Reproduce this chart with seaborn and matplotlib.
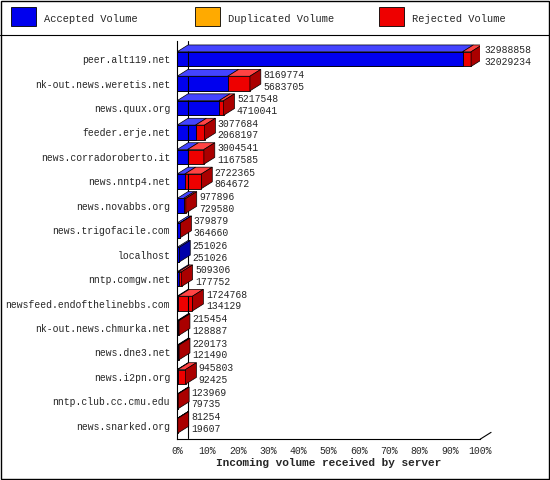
import matplotlib
matplotlib.use("Agg")
import matplotlib.pyplot as plt
import seaborn as sns
import pandas as pd
from matplotlib.patches import Polygon, Rectangle
from matplotlib.lines import Line2D

servers = ["peer.alt119.net","nk-out.news.weretis.net","news.quux.org","feeder.erje.net",
           "news.corradoroberto.it","news.nntp4.net","news.novabbs.org","news.trigofacile.com",
           "localhost","nntp.comgw.net","newsfeed.endofthelinebbs.com","nk-out.news.chmurka.net",
           "news.dne3.net","news.i2pn.org","nntp.club.cc.cmu.edu","news.snarked.org"]
offered = [32988858,8169774,5217548,3077684,3004541,2722365,977896,379879,
           251026,509306,1724768,215454,220173,945803,123969,81254]
accepted = [32029234,5683705,4710041,2068197,1167585,864672,729580,364660,
            251026,177752,134129,128887,121490,92425,79735,19607]

mx = max(offered) * 1.0
df = pd.DataFrame({"server": servers,
                   "tot": [o / mx * 97 for o in offered],
                   "acc": [a / mx * 97 for a in accepted]})

sns.set_style("white")
plt.rcParams["font.family"] = ["Liberation Mono", "DejaVu Sans Mono"]
fig = plt.figure(figsize=(5.5, 4.8), dpi=100)
ax = fig.add_axes([0.322, 0.085, 0.551, 0.83])

H = 0.6
sns.barplot(data=df, y="server", x="tot", color="#ee0000", saturation=1, width=H,
            edgecolor="black", linewidth=0.6, ax=ax, orient="h")
sns.barplot(data=df, y="server", x="acc", color="#0000ee", saturation=1, width=H,
            edgecolor="black", linewidth=0.6, ax=ax, orient="h")

dx, dy = 3.6, 0.28
for i, (t, a) in enumerate(zip(df.tot, df.acc)):
    top = i - H / 2
    ax.add_patch(Polygon([(0, top), (a, top), (a + dx, top - dy), (dx, top - dy)],
                         closed=True, fc="#4444ff", ec="black", lw=0.5, zorder=3))
    if t > a:
        ax.add_patch(Polygon([(a, top), (t, top), (t + dx, top - dy), (a + dx, top - dy)],
                             closed=True, fc="#ff4444", ec="black", lw=0.5, zorder=3))
    side = "#aa0000" if t > a else "#0000aa"
    ax.add_patch(Polygon([(t, top), (t + dx, top - dy), (t + dx, i + H / 2 - dy), (t, i + H / 2)],
                         closed=True, fc=side, ec="black", lw=0.5, zorder=3))
    ax.text(t + dx + 0.8, i - 0.36, str(offered[i]), fontsize=7, va="center", ha="left")
    ax.text(t + dx + 0.8, i + 0.12, str(accepted[i]), fontsize=7, va="center", ha="left")

ax.set_xlim(0, 100)
ax.set_ylim(len(servers) - 0.5 + 0.05, -0.75)
ax.set_xticks(range(0, 101, 10))
ax.set_xticklabels([f"{v}%" for v in range(0, 101, 10)], fontsize=7)
ax.tick_params(axis="y", labelsize=7, length=0, pad=5)
ax.tick_params(axis="x", length=3, pad=2)
ax.set_ylabel("")
ax.set_xlabel("Incoming volume received by server", fontsize=8, fontweight="bold", labelpad=1)
for s in ["top", "right"]:
    ax.spines[s].set_visible(False)
for s in ["left", "bottom"]:
    ax.spines[s].set_color("black")
    ax.spines[s].set_linewidth(0.8)
ax.plot([dx, dx], [len(servers) - 0.5, -0.75], color="black", lw=0.8, clip_on=False)
ax.plot([100, 100 + dx], [len(servers) - 0.45, len(servers) - 0.45 - dy], color="black", lw=0.8, clip_on=False)

# legend band
fig.add_artist(Line2D([0, 1], [0.927, 0.927], color="black", lw=0.8, transform=fig.transFigure))
fig.add_artist(Rectangle((0.002, 0.002), 0.996, 0.996, fill=False, ec="black", lw=1, transform=fig.transFigure))
for x0, c, lab in [(0.02, "#0000ee", "Accepted Volume"), (0.355, "#ffaa00", "Duplicated Volume"),
                   (0.69, "#ee0000", "Rejected Volume")]:
    fig.add_artist(Rectangle((x0, 0.945), 0.045, 0.04, fc=c, ec="black", lw=0.6, transform=fig.transFigure))
    fig.text(x0 + 0.06, 0.96, lab, fontsize=7.5, va="center")

fig.savefig("out.png", dpi=100, facecolor="white")
